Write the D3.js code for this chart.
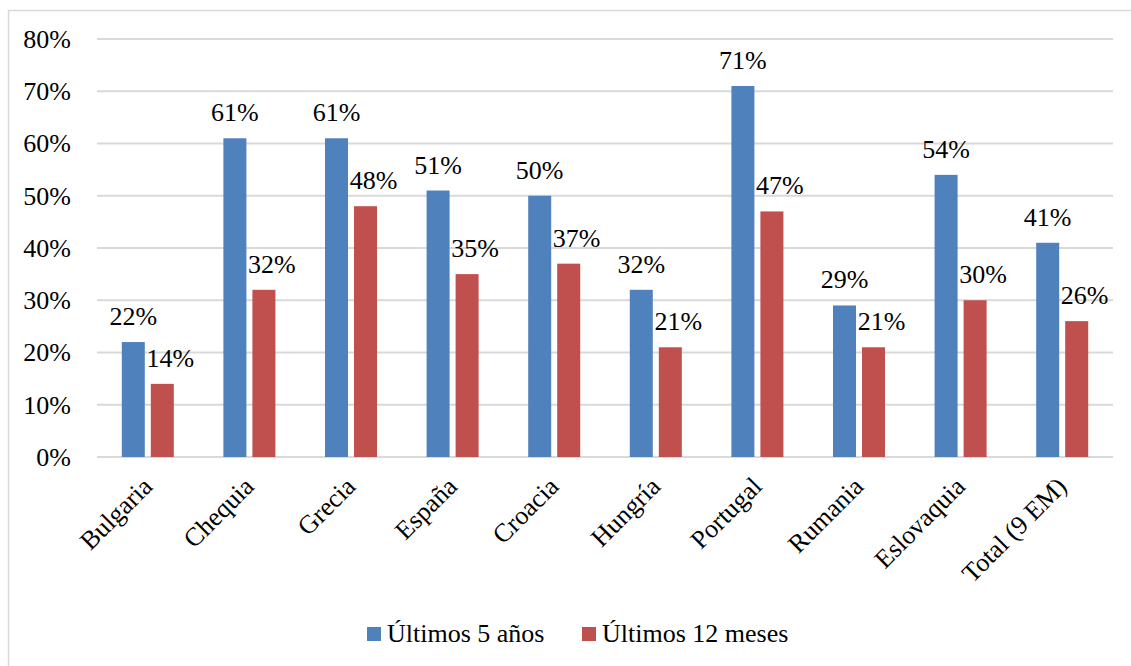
<!DOCTYPE html>
<html>
<head>
<meta charset="utf-8">
<script src="https://cdn.jsdelivr.net/npm/d3@7"></script>
<style>
  html, body { margin: 0; padding: 0; background: #fff; }
  svg { display: block; }
</style>
</head>
<body>
<svg id="chart" width="1131" height="666"></svg>
<script>
const categories = ["Bulgaria", "Chequia", "Grecia", "España", "Croacia", "Hungría", "Portugal", "Rumania", "Eslovaquia", "Total (9 EM)"];
const seriesNames = ["Últimos 5 años", "Últimos 12 meses"];
const last5Years = [22, 61, 61, 51, 50, 32, 71, 29, 54, 41];
const last12Months = [14, 32, 48, 35, 37, 21, 47, 21, 30, 26];
const yTicks = [0, 10, 20, 30, 40, 50, 60, 70, 80];
const colors = ["#4f81bd", "#c0504d"];

const FONT = "Liberation Serif";
const FS = "26px";

const seriesValues = [last5Years, last12Months];
const rows = categories.map((c, i) => ({ cat: c, vals: seriesValues.map((s, k) => ({ key: seriesNames[k], k, v: s[i] })) }));

const svg = d3.select("#chart");
const W = 1131, H = 666;
const m = { left: 97, right: 18, top: 39, bottom: 209 };

// outer border
svg.append("rect").attr("x", 8.5).attr("y", 10.5).attr("width", 1300).attr("height", 800)
  .attr("fill", "#fff").attr("stroke", "#d9d9d9").attr("stroke-width", 1.5);

const x0 = d3.scaleBand().domain(categories).range([m.left, W - m.right]).padding(0);
const bw = x0.bandwidth();
const x1 = d3.scaleBand().domain(seriesNames).range([bw * 0.244, bw * 0.756]).paddingInner(0.207);
const y = d3.scaleLinear().domain([0, 80]).range([H - m.bottom, m.top]);

// gridlines
svg.append("g").selectAll("line").data(yTicks).join("line")
  .attr("x1", m.left).attr("x2", W - m.right)
  .attr("y1", d => y(d)).attr("y2", d => y(d))
  .attr("stroke", "#d9d9d9").attr("stroke-width", 2);

// y axis labels
const yAxis = d3.axisLeft(y).tickValues(yTicks).tickFormat(d => d + "%").tickSize(0).tickPadding(26);
const gy = svg.append("g").attr("transform", `translate(${m.left},0)`).call(yAxis);
gy.attr("font-family", FONT).attr("font-size", 26);
gy.select(".domain").remove();
gy.selectAll("text").style("font-family", FONT).style("font-size", FS).attr("fill", "#000");

// bars
const groups = svg.append("g").selectAll("g").data(rows).join("g")
  .attr("transform", d => `translate(${x0(d.cat)},0)`);
groups.selectAll("rect").data(d => d.vals).join("rect")
  .attr("x", d => x1(d.key)).attr("width", x1.bandwidth())
  .attr("y", d => y(d.v)).attr("height", d => y(0) - y(d.v))
  .attr("fill", d => colors[d.k]);

// data labels
groups.selectAll("text.lbl").data(d => d.vals).join("text")
  .attr("class", "lbl")
  .attr("x", d => x1(d.key) + x1.bandwidth() / 2 + (d.k === 1 ? 8 : 0))
  .attr("y", d => y(d.v) - 17)
  .attr("text-anchor", "middle")
  .style("font-family", FONT).style("font-size", FS).attr("fill", "#000")
  .text(d => d.v + "%");

// x axis labels
const xAxis = d3.axisBottom(x0).tickSize(0).tickPadding(0);
const gx = svg.append("g").attr("transform", `translate(0,${y(0)})`).call(xAxis);
gx.attr("font-family", FONT).attr("font-size", 26);
gx.select(".domain").remove();
gx.selectAll(".tick text")
  .style("font-family", FONT).style("font-size", FS).attr("fill", "#000")
  .attr("text-anchor", "end")
  .attr("dy", null)
  .attr("y", 0)
  .attr("transform", "translate(6,31) rotate(-45)");

// legend
const legend = svg.append("g");
const legendItems = [{ name: seriesNames[0], x: 367 }, { name: seriesNames[1], x: 582 }];
legendItems.forEach((it, k) => {
  legend.append("rect").attr("x", it.x).attr("y", 627).attr("width", 14).attr("height", 14).attr("fill", colors[k]);
  legend.append("text").attr("x", it.x + 20).attr("y", 642)
    .style("font-family", FONT).style("font-size", FS).attr("fill", "#000").text(it.name);
});
</script>
</body>
</html>
